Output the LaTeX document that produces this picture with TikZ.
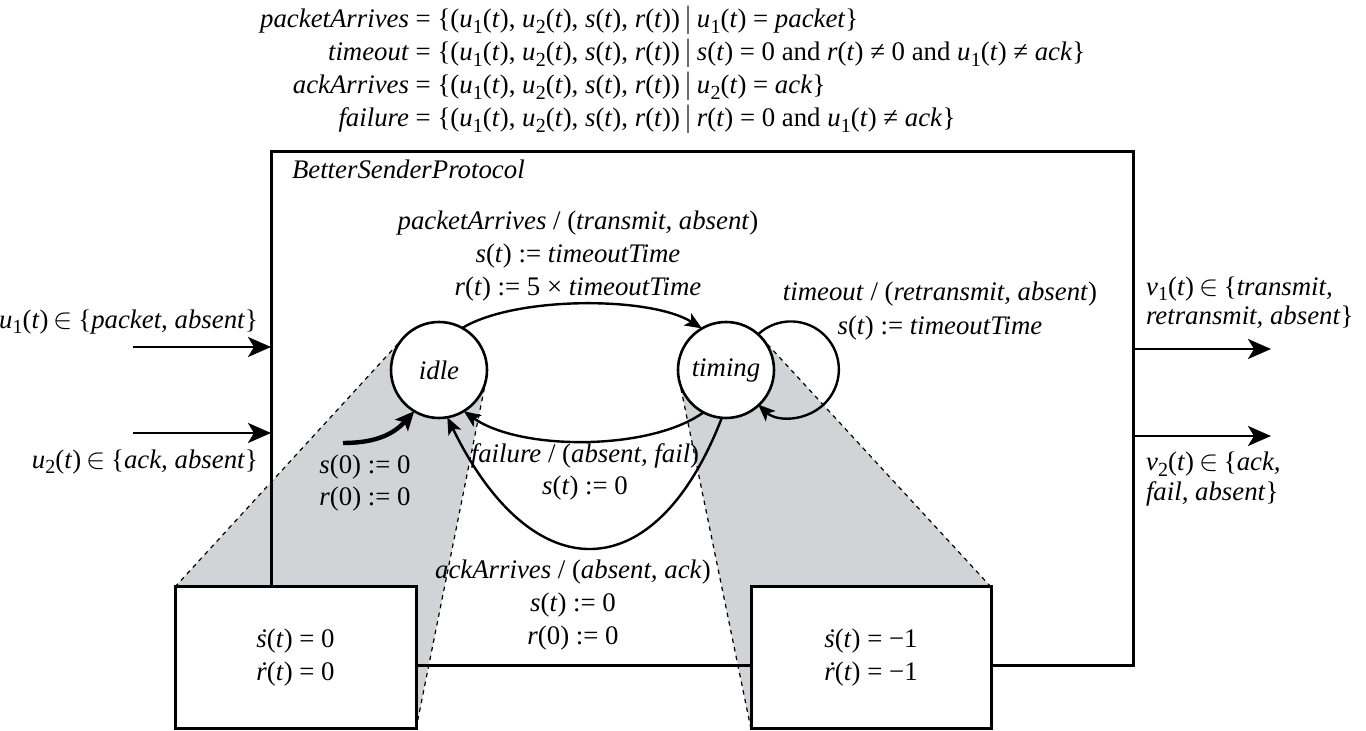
\documentclass[tikz,border=0pt]{standalone}
\usepackage{fontspec}
\setmainfont{Liberation Serif}
\usetikzlibrary{arrows.meta}
\definecolor{shadegray}{RGB}{210,211,214}
\newcommand\vr[1]{\textit{#1}}
\newcommand\sbs[2]{\textit{#1}\kern0.01em\raisebox{-0.42ex}{\fontsize{10}{10}\selectfont #2}}
\newcommand\dotv[1]{\ooalign{\textit{#1}\cr\hidewidth\kern0.22em\char"02D9\hidewidth\cr}}
\newcommand\quadr{(\sbs{u}{1}(\vr{t}), \sbs{u}{2}(\vr{t}), \vr{s}(\vr{t}), \vr{r}(\vr{t}))}
\newcommand\setbar{\,$\big|$\,}
\newcommand\inn{\hspace{0.2em}$\in$\hspace{0.2em}}
\begin{document}
\begin{tikzpicture}[x=0.5pt,y=-0.5pt,
  every node/.style={font=\fontsize{13.4}{16.3}\selectfont, inner sep=0pt, outer sep=0pt},
  state/.style={circle, draw, fill=white, line width=1.3pt, minimum size=48pt},
  modebox/.style={draw, fill=white, line width=1.5pt, align=center, font=\fontsize{13.4}{16.5}\selectfont},
  bigarrow/.style={line width=1.4pt, -{Stealth[length=11.5pt,width=10pt,inset=3pt]}},
  trans/.style={line width=1.2pt, -{Stealth[length=8.5pt,width=7pt,inset=2pt]}},
  cone/.style={line width=0.6pt, dash pattern=on 2.2pt off 2.2pt},
  lbl/.style={align=center}]
\useasboundingbox (0,0) rectangle (1366,731);

% shaded cones
\fill[shadegray] (175,587) -- (403.6,337.6) -- (439,370) -- (486.1,379.5) -- (416,729) -- (175,729) -- cycle;
\fill[shadegray] (751,729) -- (679.1,379.6) -- (726,370) -- (761.3,337.6) -- (991,587) -- (991,729) -- cycle;
\draw[cone] (175,587) -- (403.6,337.6);
\draw[cone] (416,729) -- (486.1,379.5);
\draw[cone] (751,729) -- (679.1,379.6);
\draw[cone] (991,587) -- (761.3,337.6);

% definitions on top
\node[anchor=base east] (d1) at (409,28) {\vr{packetArrives}};
\node[anchor=base west] (e1) at (409,28) {\ = \{\quadr\setbar\sbs{u}{1}(\vr{t}) = \vr{packet}\}};
\node[anchor=base east] (d2) at (409,61) {\vr{timeout}};
\node[anchor=base west] (e2) at (409,61) {\ = \{\quadr\setbar\vr{s}(\vr{t}) = 0 and \vr{r}(\vr{t}) ≠ 0 and \sbs{u}{1}(\vr{t}) ≠ \vr{ack}\}};
\node[anchor=base east] (d3) at (409,94) {\vr{ackArrives}};
\node[anchor=base west] (e3) at (409,94) {\ = \{\quadr\setbar\sbs{u}{2}(\vr{t}) = \vr{ack}\}};
\node[anchor=base east] (d4) at (409,127) {\vr{failure}};
\node[anchor=base west] (e4) at (409,127) {\ = \{\quadr\setbar\vr{r}(\vr{t}) = 0 and \sbs{u}{1}(\vr{t}) ≠ \vr{ack}\}};

% system box
\node[draw, line width=1.5pt, minimum width=431pt, minimum height=257pt] (sys) at (702,409) {};
\node[anchor=base west] (title) at (292,179) {\vr{BetterSenderProtocol}};

% states
\node[state] (idle) at (439,370) {\vr{idle}};
\node[state] (timing) at (726,370) {\vr{timing}};

% transitions
\draw[trans] (idle.61) .. controls (515,296) and (650,296) .. (timing.120);
\draw[trans] (timing.242) .. controls (650,451) and (520,451) .. (idle.301);
\draw[trans] (timing.265) .. controls (655,591) and (532,591) .. (idle.280);
\draw[trans] (timing.48) arc[start angle=133, end angle=-133, radius=24pt];
\coordinate (init) at (343,443);
\draw[line width=2.2pt, -{Stealth[length=9.5pt,width=8.5pt,inset=2pt]}] (init) .. controls (372,443) and (392,436) .. (idle.239);

% labels
\node[lbl] (lpacket) at (578,256) {\vr{packetArrives} / (\vr{transmit, absent})\\ \vr{s}(\vr{t}) := \vr{timeoutTime}\\ \vr{r}(\vr{t}) := 5 × \vr{timeoutTime}};
\node[lbl, font=\fontsize{13.4}{17}\selectfont] (ltimeout) at (940,311) {\vr{timeout} / (\vr{retransmit, absent})\\ \vr{s}(\vr{t}) := \vr{timeoutTime}};
\node[lbl] (lfail) at (585,472) {\vr{failure} / (\vr{absent, fail})\\ \vr{s}(\vr{t}) := 0};
\node[lbl] (linit) at (365,483) {\vr{s}(0) := 0\\ \vr{r}(0) := 0};
\node[lbl] (lack) at (573,605) {\vr{ackArrives} / (\vr{absent, ack})\\ \vr{s}(\vr{t}) := 0\\ \vr{r}(0) := 0};

% refinement boxes
\node[modebox, minimum width=120.5pt, minimum height=71pt] (mode1) at (295.5,658) {\dotv{s}(\vr{t}) = 0\\ \dotv{r}(\vr{t}) = 0};
\node[modebox, minimum width=120pt, minimum height=71pt] (mode2) at (871,658) {\dotv{s}(\vr{t}) = −1\\ \dotv{r}(\vr{t}) = −1};

% inputs
\coordinate (in1) at (133,347);
\coordinate (in2) at (133,433);
\draw[bigarrow] (in1) -- (in1 -| sys.west);
\draw[bigarrow] (in2) -- (in2 -| sys.west);
\node[anchor=east] (lu1) at (258,322) {\sbs{u}{1}(\vr{t})\inn\{\vr{packet, absent}\}};
\node[anchor=east] (lu2) at (258,462) {\sbs{u}{2}(\vr{t})\inn\{\vr{ack, absent}\}};

% outputs
\coordinate (out1) at (1271,349);
\coordinate (out2) at (1271,436);
\draw[bigarrow] (out1 -| sys.east) -- (out1);
\draw[bigarrow] (out2 -| sys.east) -- (out2);
\node[anchor=west, align=left, font=\fontsize{13.4}{14.6}\selectfont] (lv1) at (1146,303) {\sbs{v}{1}(\vr{t})\inn\{\vr{transmit,}\\ \vr{retransmit, absent}\}};
\node[anchor=west, align=left, font=\fontsize{13.4}{14.6}\selectfont] (lv2) at (1146,479) {\sbs{v}{2}(\vr{t})\inn\{\vr{ack,}\\ \vr{fail, absent}\}};
\end{tikzpicture}
\end{document}
